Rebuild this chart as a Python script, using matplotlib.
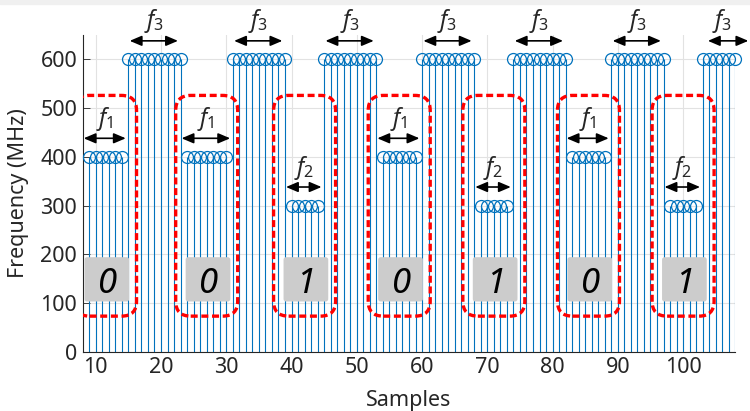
import numpy as np
import matplotlib
matplotlib.use("Agg")
import matplotlib.pyplot as plt
from matplotlib.patches import FancyBboxPatch, Rectangle

# ---------------- data ----------------
samples = list(range(9, 109))
freq_mhz = (
    [400, 400, 400, 400, 400, 400]                      # 9-14   f1
    + [600, 600, 600, 600, 600, 600, 600, 600, 600]     # 15-23  f3
    + [400, 400, 400, 400, 400, 400, 400]               # 24-30  f1
    + [600, 600, 600, 600, 600, 600, 600, 600, 600]     # 31-39  f3
    + [300, 300, 300, 300, 300]                         # 40-44  f2
    + [600, 600, 600, 600, 600, 600, 600, 600, 600]     # 45-53  f3
    + [400, 400, 400, 400, 400, 400]                    # 54-59  f1
    + [600, 600, 600, 600, 600, 600, 600, 600, 600]     # 60-68  f3
    + [300, 300, 300, 300, 300]                         # 69-73  f2
    + [600, 600, 600, 600, 600, 600, 600, 600, 600]     # 74-82  f3
    + [400, 400, 400, 400, 400, 400]                    # 83-88  f1
    + [600, 600, 600, 600, 600, 600, 600, 600, 600]     # 89-97  f3
    + [300, 300, 300, 300, 300]                         # 98-102 f2
    + [600, 600, 600, 600, 600, 600]                    # 103-108 f3
)
bits = ["0", "0", "1", "0", "1", "0", "1"]
freq_names = {400: "1", 300: "2", 600: "3"}
x_ticks = [10, 20, 30, 40, 50, 60, 70, 80, 90, 100]
y_ticks = [0, 100, 200, 300, 400, 500, 600]
x_label = "Samples"
y_label = "Frequency (MHz)"
preamble_freq = 600

# ---------------- style ----------------
plt.rcParams["font.family"] = ["Noto Sans", "DejaVu Sans"]
plt.rcParams["mathtext.fontset"] = "custom"
plt.rcParams["mathtext.it"] = "Noto Sans:italic"
plt.rcParams["mathtext.rm"] = "Noto Sans"
BLUE = "#0072BD"
DARK = "#262626"

fig = plt.figure(figsize=(7.5, 4.11), dpi=100)
fig.patches.append(Rectangle((0, 1 - 4 / 411), 1, 4 / 411, transform=fig.transFigure,
                             color="#f0f0f0", zorder=0))
ax = fig.add_axes([82.7 / 750, (411 - 351.7) / 411, 652.6 / 750, 316.7 / 411])
ax.set_xlim(8, 108)
ax.set_ylim(0, 650)

ml, sl, bl = ax.stem(samples, freq_mhz, basefmt=" ")
plt.setp(sl, color=BLUE, linewidth=0.8, zorder=2)
plt.setp(ml, color=BLUE, marker="o", markerfacecolor="none", markersize=8.6,
         markeredgewidth=0.9, zorder=3)
ml.set_clip_on(False)

ax.set_xticks(x_ticks)
ax.set_yticks(y_ticks)
ax.grid(True, color="#e2e2e2", linewidth=0.8)
ax.set_axisbelow(True)
ax.tick_params(direction="in", length=5, width=0.6, colors=DARK, labelsize=15.5, pad=4)
for s in ("top", "right"):
    ax.spines[s].set_visible(False)
for s in ("left", "bottom"):
    ax.spines[s].set_color(DARK)
    ax.spines[s].set_linewidth(0.8)
ax.set_xlabel(x_label, fontsize=15.5, color=DARK)
ax.set_ylabel(y_label, fontsize=15.5, color=DARK)
ax.xaxis.set_label_coords(0.5, -0.122)
ax.yaxis.set_label_coords(-0.083, 0.5)

# ---------------- runs of constant frequency ----------------
runs = []
start = 0
for i in range(1, len(freq_mhz) + 1):
    if i == len(freq_mhz) or freq_mhz[i] != freq_mhz[start]:
        runs.append((samples[start], samples[i - 1], freq_mhz[start]))
        start = i

# scale helpers (px per unit)
px_x = 652.6 / (108 - 8)
px_y = 316.7 / 650
aspect = (1 / px_y) / (1 / px_x)

arrow_kw = dict(arrowstyle="<|-|>,head_length=0.4,head_width=0.17", color="black",
                lw=1.2, shrinkA=0, shrinkB=0, mutation_scale=18)

bit_i = 0
for k, (a, b, f) in enumerate(runs):
    if f == preamble_freq:
        if k == len(runs) - 1:
            x0, x1, xl = a + 0.8, a + 7.0, a + 3.0
        else:
            x0, x1 = a + 0.2, b - 0.4
            xl = (x0 + x1) / 2
    else:
        x0, x1 = a - 0.85, b + 0.6
        xl = (x0 + x1) / 2
        cx = (a + b) / 2
        # red dashed rounded box
        w = 9.5
        r = 15 / px_x
        box = FancyBboxPatch((cx - w / 2, 73), w, 526 - 73,
                             boxstyle=f"round,pad=0,rounding_size={r}",
                             mutation_aspect=aspect, facecolor="none",
                             edgecolor="#ff0000", linewidth=2.4,
                             linestyle=(0, (2.1, 1.1)), zorder=5)
        ax.add_patch(box)
        # gray label box
        gw = 44.7 / px_x
        gh = 44.3 / px_y
        gbox = FancyBboxPatch((cx - gw / 2 + 0.2, 148.5 - gh / 2), gw, gh,
                              boxstyle=f"round,pad=0,rounding_size={2.5 / px_x}",
                              mutation_aspect=aspect, facecolor="#cccccc",
                              edgecolor="none", zorder=5)
        ax.add_patch(gbox)
        ax.text(cx + 0.2, 120, bits[bit_i], fontsize=25, style="italic", color="black",
                fontweight="light", ha="center", va="baseline", zorder=6)
        bit_i += 1
    ax.annotate("", xy=(x0, f + 38), xytext=(x1, f + 38), arrowprops=arrow_kw,
                annotation_clip=False, zorder=6)
    ax.text(xl, f + 78, r"$f_{\mathit{" + freq_names[f] + "}}$", fontsize=16.5,
            ha="center", va="center", color=DARK, zorder=6, clip_on=False)

fig.savefig("out.png", dpi=100)
